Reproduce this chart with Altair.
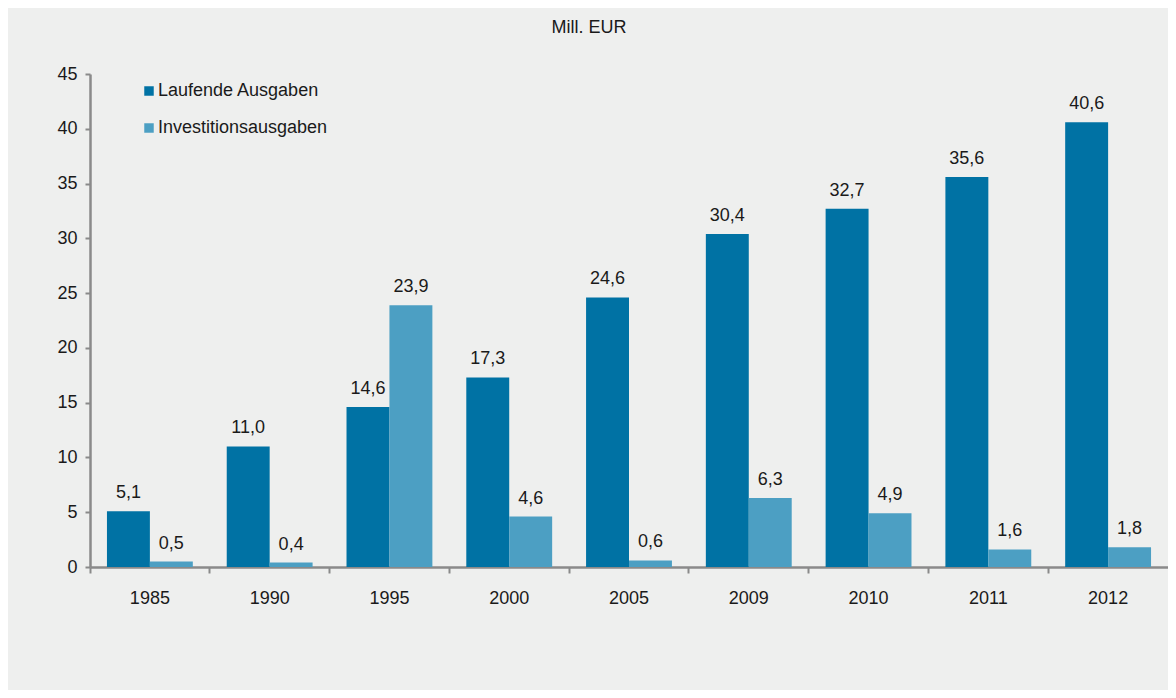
import altair as alt
import pandas as pd

years = ["1985", "1990", "1995", "2000", "2005", "2009", "2010", "2011", "2012"]
laufende = [5.1, 11.0, 14.6, 17.3, 24.6, 30.4, 32.7, 35.6, 40.6]
invest = [0.5, 0.4, 23.9, 4.6, 0.6, 6.3, 4.9, 1.6, 1.8]
series = ["Laufende Ausgaben", "Investitionsausgaben"]
colors = ["#0072a4", "#4c9fc3"]

rows = []
for i, y in enumerate(years):
    for s, vals in zip(series, [laufende, invest]):
        v = vals[i]
        rows.append({"Jahr": y, "Serie": s, "Wert": v,
                     "Label": f"{v:.1f}".replace(".", ",")})
df = pd.DataFrame(rows)

FONT = "Liberation Sans"
FS = 18

x = alt.X("Jahr:N", sort=years, title=None,
          scale=alt.Scale(paddingInner=0, paddingOuter=0),
          axis=alt.Axis(bandPosition=0, labelOffset=0, labelAngle=0,
                        labelPadding=16, tickSize=6, tickWidth=2,
                        tickColor="#8a8a8a", domainColor="#8a8a8a",
                        domainWidth=2.5, labelFontSize=FS, labelColor="#1a1a1a",
                        labelFont=FONT))
xo = alt.XOffset("Serie:N", sort=series,
                 scale=alt.Scale(paddingInner=0, paddingOuter=0.395))
y = alt.Y("Wert:Q", title=None,
          scale=alt.Scale(domain=[0, 45], nice=False),
          axis=alt.Axis(values=list(range(0, 50, 5)), grid=False,
                        tickSize=5, tickWidth=2, tickColor="#8a8a8a",
                        domainColor="#8a8a8a", domainWidth=2.5,
                        labelFontSize=FS, labelColor="#1a1a1a",
                        labelFont=FONT, labelPadding=8))

bars = alt.Chart(df).mark_bar().encode(
    x=x, xOffset=xo, y=y,
    color=alt.Color("Serie:N", sort=series,
                    scale=alt.Scale(domain=series, range=colors),
                    legend=alt.Legend(title=None, orient="none",
                                      legendX=50, legendY=8,
                                      symbolType="square", symbolSize=90,
                                      symbolStrokeWidth=0,
                                      labelFontSize=FS, labelFont=FONT,
                                      labelColor="#1a1a1a", rowPadding=19,
                                      labelOffset=0, labelLimit=0))
)

texts = alt.Chart(df).mark_text(baseline="bottom", dy=-9, fontSize=FS,
                                font=FONT, color="#1a1a1a").encode(
    x=alt.X("Jahr:N", sort=years), xOffset=alt.XOffset("Serie:N", sort=series),
    y="Wert:Q", text="Label:N"
)

chart = (bars + texts).properties(
    width=1078, height=493,
    title=alt.Title("Mill. EUR", fontSize=FS, font=FONT, fontWeight="normal",
                    color="#1a1a1a", offset=28, dx=-40),
    background="#eeefee",
    padding={"left": 82, "top": 66, "right": 0, "bottom": 123},
    autosize=alt.AutoSizeParams(type="none"),
).configure_view(stroke=None)

chart.save("out.html", embed_options={"renderer": "svg", "actions": False})
